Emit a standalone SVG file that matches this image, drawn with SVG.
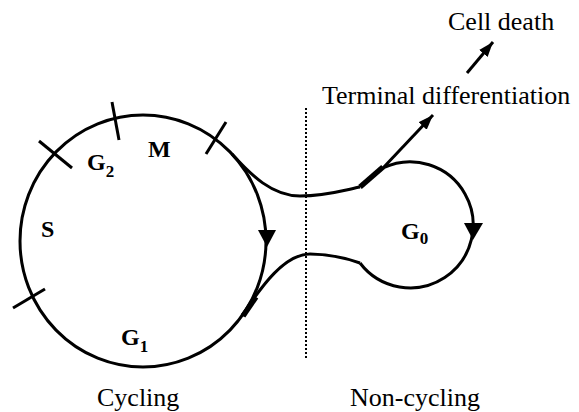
<svg xmlns="http://www.w3.org/2000/svg" width="579" height="412" viewBox="0 0 579 412">
<defs>
<style>
.ln{fill:none;stroke:#000;stroke-width:3;stroke-linecap:butt}
.thick{fill:none;stroke:#000;stroke-width:5.5}
.tick{stroke:#000;stroke-width:3}
.head{fill:#000;stroke:none}
.lbl{font-size:26px;fill:#000}
.ph{font-size:24px;font-weight:bold;fill:#000}
.sub{font-size:17px}
.dot{stroke:#000;stroke-width:2;stroke-dasharray:2 2}
</style>
<marker id="ah" markerUnits="userSpaceOnUse" markerWidth="16" markerHeight="12" refX="15" refY="6" orient="auto">
<path d="M0,0.5 L15,6 L0,11.5 z" fill="#000"/>
</marker>
</defs>
<g id="cycle">
<ellipse class="ln" cx="143" cy="241" rx="123" ry="126"/>
<line class="tick" x1="112" y1="102" x2="119" y2="140"/>
<line class="tick" x1="39" y1="141" x2="72" y2="168"/>
<line class="tick" x1="226" y1="122" x2="206" y2="154"/>
<line class="tick" x1="45" y1="289" x2="13" y2="308"/>
<polygon class="head" points="258,230 276,230 267,247"/>
<g font-family="Liberation Serif, DejaVu Serif, serif">
<text class="ph" x="148" y="157">M</text>
<text class="ph" x="87" y="170">G<tspan class="sub" dy="7">2</tspan></text>
<text class="ph" x="41" y="237">S</text>
<text class="ph" x="121" y="345">G<tspan class="sub" dy="7">1</tspan></text>
</g>
</g>
<g id="g0">
<path class="ln" d="M383,168 A63,63 0 1 1 360,263"/>
<polygon class="head" points="464,223 483,223 473,240"/>
<text class="ph" font-family="Liberation Serif, DejaVu Serif, serif" x="401" y="239">G<tspan class="sub" dy="5">0</tspan></text>
</g>
<g id="divider">
<line class="dot" x1="306" y1="108" x2="306" y2="360"/>
</g>
<g id="connectors">
<path class="ln" d="M232,154 C251,175 272,196 300,196 C325,196 345,190 360,187"/>
<line class="thick" x1="360" y1="187" x2="383" y2="167"/>
<path class="ln" d="M360,263 C343,257 328,254 310,254 C285,254 262,285 242,316"/>
<line class="thick" x1="243" y1="316" x2="256" y2="297"/>
<line class="ln" x1="383" y1="168" x2="433" y2="115" marker-end="url(#ah)"/>
<line class="ln" x1="467" y1="73" x2="493" y2="42" marker-end="url(#ah)"/>
</g>
<g id="labels" font-family="Liberation Serif, DejaVu Serif, serif">
<text class="lbl" x="448" y="30">Cell death</text>
<text class="lbl" x="322" y="104">Terminal differentiation</text>
<text class="lbl" x="97" y="406">Cycling</text>
<text class="lbl" x="350" y="406">Non-cycling</text>
</g>
</svg>
